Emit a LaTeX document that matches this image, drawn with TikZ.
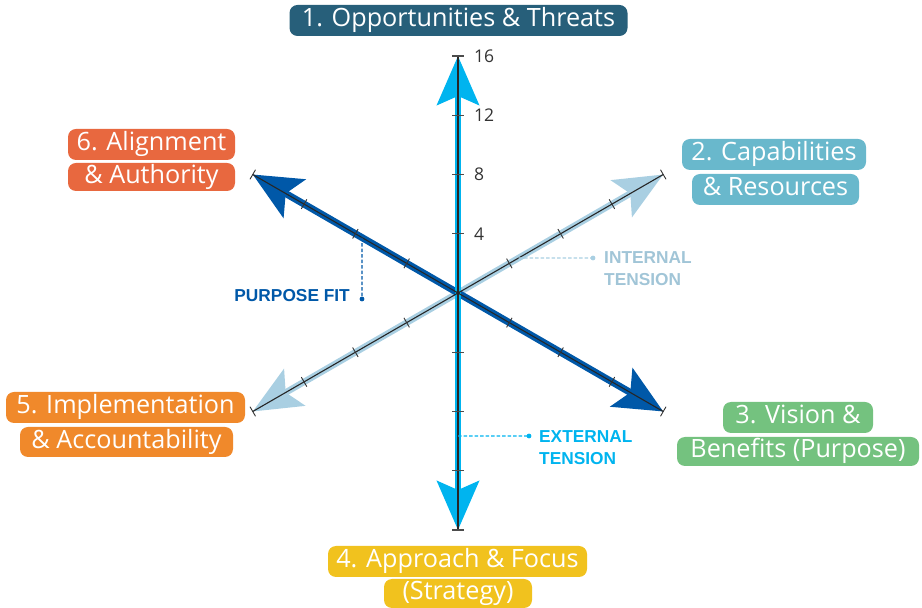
\documentclass[tikz,border=0pt]{standalone}
\usepackage{fontspec}
\setmainfont{Open Sans}
\newfontfamily\annfont{Liberation Sans}
\usetikzlibrary{arrows.meta,calc}
\definecolor{cOT}{HTML}{275F7A}
\definecolor{cCR}{HTML}{69B8CC}
\definecolor{cVB}{HTML}{74C27F}
\definecolor{cAF}{HTML}{F1C21E}
\definecolor{cIA}{HTML}{F0892B}
\definecolor{cAA}{HTML}{E8683F}
\definecolor{cCyan}{HTML}{00B4EF}
\definecolor{cDark}{HTML}{0058A8}
\definecolor{cLight}{HTML}{A9CFE2}
\definecolor{cTxt}{HTML}{333333}
\begin{document}
\begin{tikzpicture}[x=1pt,y=1pt,
  lbl/.style={rounded corners=8pt, fill=#1, text=white, inner sep=0pt,
    font=\fontsize{25.2}{28}\selectfont, text height=18pt, text depth=5.5pt},
  cyanline/.style={draw=cCyan, line width=6pt},
  darkline/.style={draw=cDark, line width=7pt},
  lightline/.style={draw=cLight, line width=6.5pt},
  axisline/.style={draw=black!85, line width=1.1pt},
  tk/.style={draw=black!80, line width=0.9pt},
  vtk/.style={draw=black!70, line width=1.2pt},
  ticklbl/.style={text=cTxt, inner sep=0pt, font=\fontsize{17.5}{20}\selectfont},
  ann/.style={inner sep=0pt, align=left, font=\annfont\bfseries\fontsize{17.3}{22}\selectfont},
  leader/.style={line width=1.2pt, dash pattern=on 3.5pt off 2pt}
]
\useasboundingbox (0,0) rectangle (922,608);
\coordinate (c) at (458,315);
\coordinate (eN) at ($(c)+(90:237)$);
\coordinate (eS) at ($(c)+(270:237)$);
\coordinate (eUL) at ($(c)+(150:237)$);
\coordinate (eLR) at ($(c)+(-30:237)$);
\coordinate (eUR) at ($(c)+(30:237)$);
\coordinate (eLL) at ($(c)+(210:237)$);

% coloured axes with arrowheads
\draw[lightline, {Stealth[length=48pt,width=42pt,inset=10pt]}-{Stealth[length=48pt,width=42pt,inset=10pt]}] (eLL) -- (eUR);
\draw[darkline, {Stealth[length=48pt,width=44pt,inset=10pt]}-{Stealth[length=48pt,width=44pt,inset=10pt]}] (eUL) -- (eLR);
\draw[cyanline, {Stealth[length=49pt,width=42pt,inset=9pt]}-{Stealth[length=49pt,width=42pt,inset=9pt]}] (eS) -- (eN);

% thin black axes
\draw[axisline] (eLL) -- (eUR);
\draw[axisline] (eUL) -- (eLR);
\draw[axisline] (eS) -- (eN);

% ticks
\foreach \a in {30,210,150,-30}
  \foreach \k in {1,2,3,4}
    \draw[tk] ($(c)+(\a:\k*59.25)+(\a+90:5.5)$) -- ($(c)+(\a:\k*59.25)+(\a-90:5.5)$);
\foreach \a in {90,270}
  \foreach \k in {1,2,3,4}
    \draw[vtk] ($(c)+(\a:\k*59.25)+(-6,0)$) -- ($(c)+(\a:\k*59.25)+(6,0)$);

% tick labels
\foreach \k/\v in {1/4,2/8,3/12,4/16}
  \node[ticklbl, anchor=west] (t\v) at ($(c)+(90:\k*59.25)+(16,0)$) {\v};

% annotations
\coordinate (pfs) at ($(c)!0.468!(eUL)$);
\coordinate (pfd) at (362,309);
\draw[leader, draw=cDark] (pfs) -- (pfd);
\fill[cDark] (pfd) circle (2.4);
\node[ann, text=cDark, anchor=east] (pf) at (350,312) {PURPOSE FIT};

\coordinate (its) at ($(c)!0.295!(eUR)$);
\coordinate (itd) at (593,350);
\draw[leader, draw=cLight] (its) -- (itd);
\fill[cLight] (itd) circle (2.4);
\node[ann, text=cLight!95!black, anchor=west] (it) at (604,339) {INTERNAL\\TENSION};

\coordinate (ets) at ($(c)!0.603!(eS)$);
\coordinate (etd) at (529,172);
\draw[leader, draw=cCyan] (ets) -- (etd);
\fill[cCyan] (etd) circle (2.4);
\node[ann, text=cCyan, anchor=west] (et) at (539,160.5) {EXTERNAL\\TENSION};

% labels
\node[lbl=cOT, minimum width=338pt, minimum height=31pt] (L1) at (458.5,587.5) {1. Opportunities \& Threats};
\node[lbl=cAA, minimum width=167pt, minimum height=31pt] (L6a) at (151.5,463.5) {6. Alignment};
\node[lbl=cAA, minimum width=167pt, minimum height=28pt] (L6b) at (151.5,431) {\& Authority};
\node[lbl=cCR, minimum width=184pt, minimum height=31pt] (L2a) at (774,453.5) {2. Capabilities};
\node[lbl=cCR, minimum width=167pt, minimum height=31pt] (L2b) at (775.5,418.5) {\& Resources};
\node[lbl=cIA, minimum width=239pt, minimum height=31pt] (L5a) at (125.5,200.5) {5. Implementation};
\node[lbl=cIA, minimum width=213pt, minimum height=30pt] (L5b) at (126.5,166) {\& Accountability};
\node[lbl=cVB, minimum width=150pt, minimum height=31pt] (L3a) at (798,190.5) {3. Vision \&};
\node[lbl=cVB, minimum width=242pt, minimum height=29pt] (L3b) at (798,156.5) {Benefits (Purpose)};
\node[lbl=cAF, minimum width=259pt, minimum height=31pt] (L4a) at (457.5,46.5) {4. Approach \& Focus};
\node[lbl=cAF, minimum width=148pt, minimum height=29pt] (L4b) at (458,14.5) {(Strategy)};
\end{tikzpicture}
\end{document}
